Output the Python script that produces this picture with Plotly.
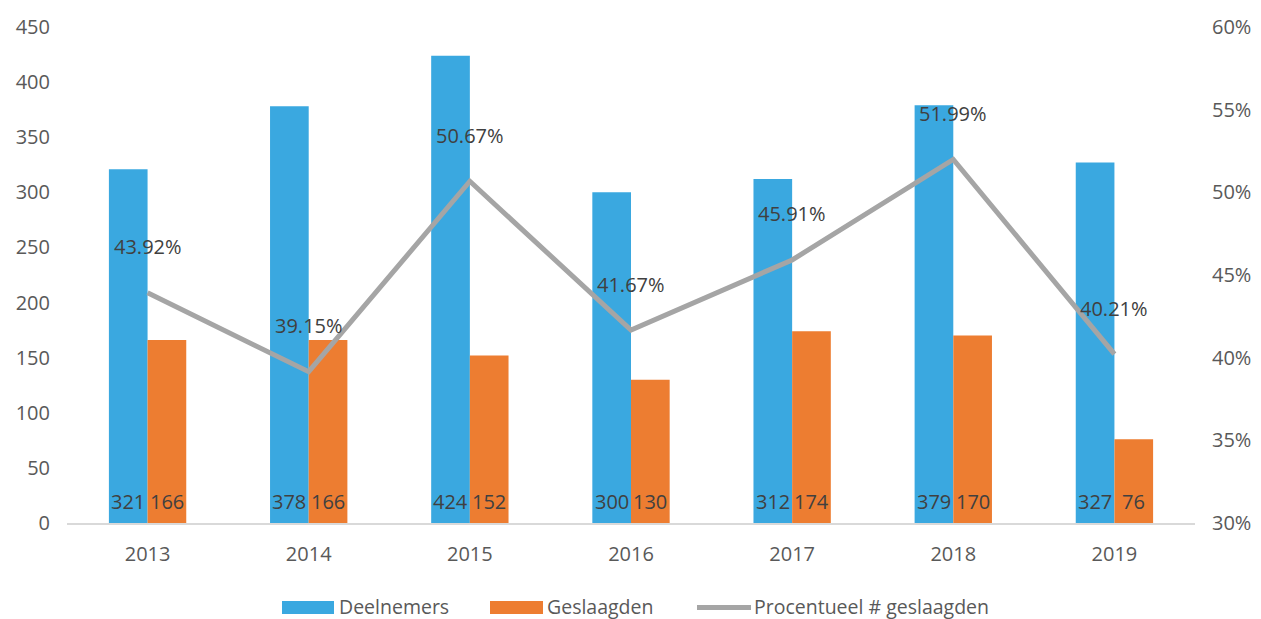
import plotly.graph_objects as go

years = ["2013", "2014", "2015", "2016", "2017", "2018", "2019"]
deelnemers = [321, 378, 424, 300, 312, 379, 327]
geslaagden = [166, 166, 152, 130, 174, 170, 76]
percentage = [43.92, 39.15, 50.67, 41.67, 45.91, 51.99, 40.21]

FONT = "Open Sans"
TICK_COLOR = "#595959"
LABEL_COLOR = "#404040"
BLUE = "#3AA8E0"
ORANGE = "#ED7D31"
GREY = "#A5A5A5"
FS = 20

# page body has an 8px margin, so the figure is offset by 8px
OFF = 8
W, H = 1261 - OFF, 619 - OFF
L, R, T, B = 67 - OFF, W - (1195 - OFF), 27 - OFF, H - (523 - OFF)
PW, PH = W - L - R, H - T - B
BARGAP = 0.52
HALF = (1 - BARGAP) / 4  # offset of each bar centre from category centre

fig = go.Figure()
fig.add_trace(go.Bar(x=years, y=deelnemers, name="Deelnemers", marker_color=BLUE,
                     marker_line_width=0))
fig.add_trace(go.Bar(x=years, y=geslaagden, name="Geslaagden", marker_color=ORANGE,
                     marker_line_width=0))
fig.add_trace(go.Scatter(
    x=years, y=percentage, name="Procentueel # geslaagden", yaxis="y2",
    mode="lines", line=dict(color=GREY, width=5),
))

# bar value labels at the bar base
for i, (d, g) in enumerate(zip(deelnemers, geslaagden)):
    for xv, val in ((i - HALF, d), (i + HALF, g)):
        fig.add_annotation(x=xv, y=0, xref="x", yref="y", text=str(val),
                           showarrow=False, yanchor="middle", yshift=22,
                           font=dict(family=FONT, size=FS, color=LABEL_COLOR))

# percentage labels above line points
for i, p in enumerate(percentage):
    fig.add_annotation(x=i, y=p, xref="x", yref="y2", text=f"{p:.2f}%",
                       showarrow=False, yanchor="middle", yshift=46,
                       font=dict(family=FONT, size=FS, color=LABEL_COLOR))

# custom legend (reference pixel positions converted to paper coords)
def px(xp):
    return (xp - OFF - L) / PW

def py(yp):
    return (H - B - (yp - OFF)) / PH

legend_items = [
    ("rect", BLUE, 282, 334, 339, "Deelnemers"),
    ("rect", ORANGE, 490, 543, 547, "Geslaagden"),
    ("line", GREY, 697, 751, 754, "Procentueel # geslaagden"),
]
for kind, col, x0, x1, tx, label in legend_items:
    if kind == "rect":
        fig.add_shape(type="rect", xref="paper", yref="paper",
                      x0=px(x0), x1=px(x1), y0=py(614), y1=py(601),
                      fillcolor=col, line=dict(width=0))
    else:
        fig.add_shape(type="line", xref="paper", yref="paper",
                      x0=px(x0), x1=px(x1), y0=py(607.5), y1=py(607.5),
                      line=dict(color=col, width=5))
    fig.add_annotation(xref="paper", yref="paper", x=px(tx), y=py(606.5),
                       xanchor="left", yanchor="middle", showarrow=False, text=label,
                       xshift=-2,
                       font=dict(family=FONT, size=19.5, color=TICK_COLOR))

fig.update_layout(
    width=W, height=H,
    margin=dict(l=L, r=R, t=T, b=B, autoexpand=False),
    paper_bgcolor="white", plot_bgcolor="white",
    barmode="group", bargap=BARGAP, bargroupgap=0,
    font=dict(family=FONT, size=FS, color=TICK_COLOR),
    showlegend=False,
    xaxis=dict(type="category", range=[-0.5, len(years) - 0.5], showgrid=False,
               showline=True, linecolor="#D9D9D9", linewidth=1.5, ticks="",
               automargin=False, ticklabelstandoff=12,
               tickfont=dict(size=FS, color=TICK_COLOR)),
    yaxis=dict(range=[0, 450], dtick=50, showgrid=False, zeroline=False, automargin=False,
               tickfont=dict(size=FS, color=TICK_COLOR), ticklabelstandoff=16),
    yaxis2=dict(range=[30, 60], dtick=5, overlaying="y", side="right", showgrid=False,
                zeroline=False, ticksuffix="%", automargin=False, ticklabelstandoff=16,
                tickfont=dict(size=FS, color=TICK_COLOR)),
)

fig.write_html(
    "out.html",
    post_script="document.documentElement.style.overflow='hidden';"
                "document.body.style.overflow='hidden';",
)
